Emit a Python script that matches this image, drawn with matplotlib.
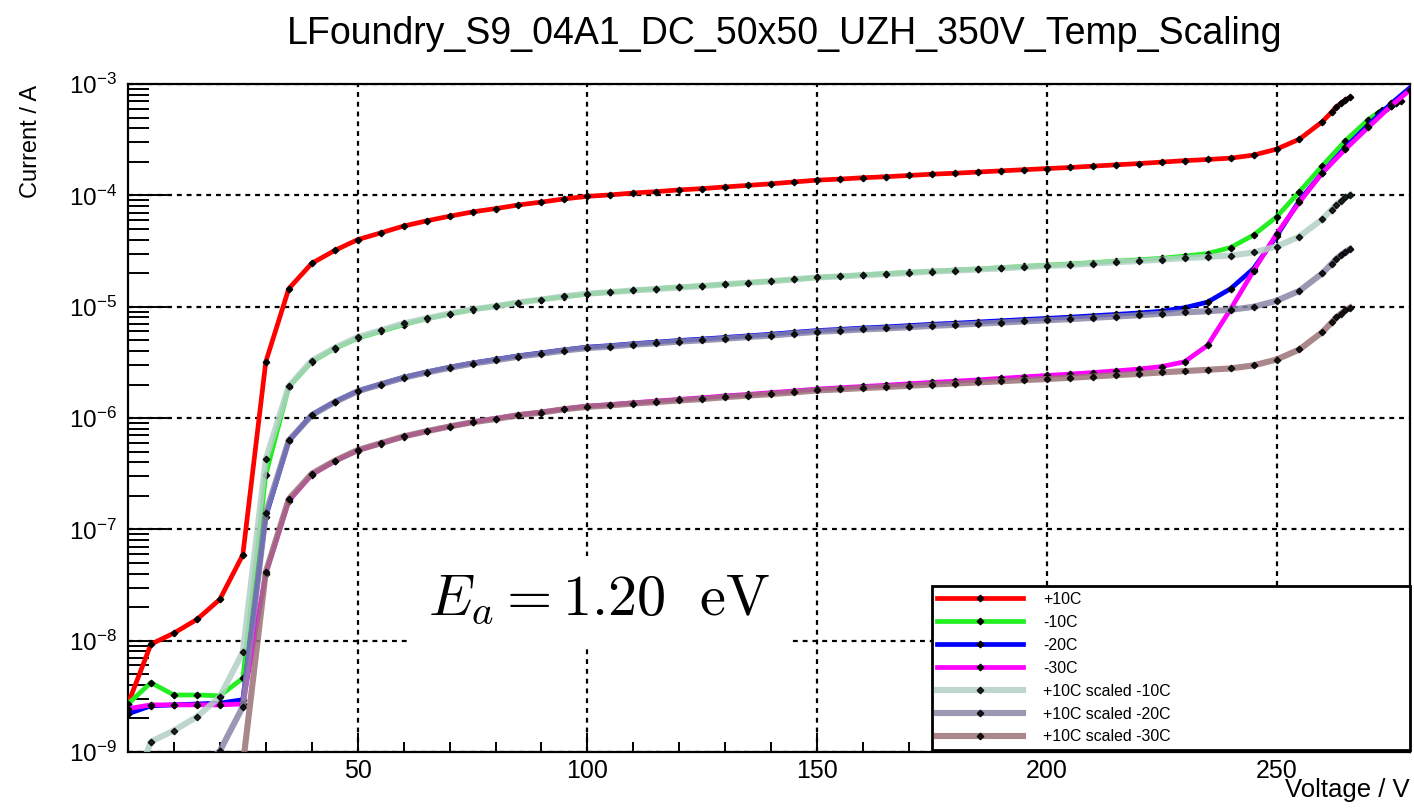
import matplotlib
matplotlib.use("Agg")
import matplotlib.pyplot as plt
from matplotlib.ticker import LogLocator, MultipleLocator, FixedLocator, NullFormatter

plt.rcParams["font.family"] = ["Liberation Sans", "DejaVu Sans"]
plt.rcParams["mathtext.fontset"] = "custom"
plt.rcParams["mathtext.rm"] = "Liberation Sans"
plt.rcParams["mathtext.it"] = "Liberation Sans:italic"

# voltage sweep, 5 V steps
v_sweep = [0, 5, 10, 15, 20, 25, 30, 35, 40, 45, 50, 55, 60, 65, 70, 75, 80, 85, 90, 95,
           100, 105, 110, 115, 120, 125, 130, 135, 140, 145, 150, 155, 160, 165, 170, 175,
           180, 185, 190, 195, 200, 205, 210, 215, 220, 225, 230, 235, 240, 245, 250, 255, 260]
v_p10 = v_sweep + [262, 263, 264, 265, 266]
v_m10 = v_sweep + [265, 270, 272, 273, 274, 275, 276, 277]
v_m20 = v_sweep + [265, 270, 275, 280]
v_m30 = v_sweep + [265, 270, 275, 279]

i_p10 = [2.7e-9, 9.3e-9, 1.17e-8, 1.55e-8, 2.35e-8, 5.9e-8, 3.2e-6, 1.45e-5, 2.45e-5, 3.2e-5,
         4.0e-5, 4.6e-5, 5.3e-5, 5.9e-5, 6.5e-5, 7.1e-5, 7.6e-5, 8.2e-5, 8.7e-5, 9.3e-5,
         9.8e-5, 1.01e-4, 1.05e-4, 1.08e-4, 1.12e-4, 1.15e-4, 1.19e-4, 1.23e-4, 1.27e-4, 1.32e-4,
         1.37e-4, 1.40e-4, 1.44e-4, 1.47e-4, 1.51e-4, 1.55e-4, 1.58e-4, 1.62e-4, 1.66e-4, 1.70e-4,
         1.74e-4, 1.78e-4, 1.83e-4, 1.88e-4, 1.93e-4, 1.99e-4, 2.05e-4, 2.10e-4, 2.16e-4, 2.30e-4,
         2.60e-4, 3.20e-4, 4.60e-4,
         5.6e-4, 6.2e-4, 6.7e-4, 7.2e-4, 7.6e-4]

i_m10 = [2.7e-9, 4.2e-9, 3.25e-9, 3.25e-9, 3.2e-9, 4.6e-9, 3.1e-7, 1.9e-6, 3.2e-6, 4.2e-6,
         5.2e-6, 6.0e-6, 6.9e-6, 7.8e-6, 8.6e-6, 9.4e-6, 1.01e-5, 1.09e-5, 1.16e-5, 1.23e-5,
         1.30e-5, 1.35e-5, 1.40e-5, 1.45e-5, 1.50e-5, 1.54e-5, 1.59e-5, 1.64e-5, 1.70e-5, 1.76e-5,
         1.83e-5, 1.88e-5, 1.93e-5, 1.98e-5, 2.03e-5, 2.08e-5, 2.13e-5, 2.18e-5, 2.24e-5, 2.30e-5,
         2.36e-5, 2.42e-5, 2.49e-5, 2.56e-5, 2.64e-5, 2.72e-5, 2.85e-5, 3.0e-5, 3.4e-5, 4.4e-5,
         6.4e-5, 1.08e-4, 1.85e-4,
         3.1e-4, 4.8e-4, 5.5e-4, 5.8e-4, 6.1e-4, 6.4e-4, 6.7e-4, 7.0e-4]

i_m20 = [2.2e-9, 2.6e-9, 2.65e-9, 2.7e-9, 2.75e-9, 2.95e-9, 1.3e-7, 6.2e-7, 1.07e-6, 1.40e-6,
         1.75e-6, 2.02e-6, 2.32e-6, 2.59e-6, 2.86e-6, 3.12e-6, 3.36e-6, 3.62e-6, 3.85e-6, 4.10e-6,
         4.33e-6, 4.47e-6, 4.65e-6, 4.80e-6, 4.97e-6, 5.12e-6, 5.29e-6, 5.47e-6, 5.66e-6, 5.88e-6,
         6.10e-6, 6.25e-6, 6.43e-6, 6.58e-6, 6.76e-6, 6.95e-6, 7.10e-6, 7.28e-6, 7.47e-6, 7.66e-6,
         7.85e-6, 8.05e-6, 8.28e-6, 8.52e-6, 8.78e-6, 9.10e-6, 9.8e-6, 1.1e-5, 1.45e-5, 2.2e-5,
         4.3e-5, 9.0e-5, 1.6e-4,
         2.7e-4, 4.3e-4, 6.7e-4, 1.0e-3]

i_m30 = [2.45e-9, 2.65e-9, 2.65e-9, 2.65e-9, 2.65e-9, 2.7e-9, 4.0e-8, 1.8e-7, 3.1e-7, 4.1e-7,
         5.1e-7, 5.9e-7, 6.8e-7, 7.6e-7, 8.4e-7, 9.2e-7, 9.9e-7, 1.07e-6, 1.13e-6, 1.21e-6,
         1.28e-6, 1.32e-6, 1.37e-6, 1.42e-6, 1.47e-6, 1.52e-6, 1.58e-6, 1.63e-6, 1.69e-6, 1.75e-6,
         1.82e-6, 1.87e-6, 1.92e-6, 1.97e-6, 2.03e-6, 2.09e-6, 2.14e-6, 2.20e-6, 2.27e-6, 2.34e-6,
         2.41e-6, 2.48e-6, 2.56e-6, 2.65e-6, 2.75e-6, 2.90e-6, 3.2e-6, 4.5e-6, 9.5e-6, 2.1e-5,
         4.5e-5, 8.7e-5, 1.6e-4,
         2.6e-4, 4.1e-4, 6.4e-4, 8.8e-4]

# +10C curve scaled to lower temperatures (same voltages as +10C)
i_s10 = [3.6e-10, 1.24e-9, 1.56e-9, 2.07e-9, 3.13e-9, 7.9e-9, 4.27e-7, 1.93e-6, 3.27e-6, 4.27e-6,
         5.33e-6, 6.13e-6, 7.07e-6, 7.87e-6, 8.67e-6, 9.47e-6, 1.01e-5, 1.09e-5, 1.16e-5, 1.24e-5,
         1.31e-5, 1.35e-5, 1.40e-5, 1.44e-5, 1.49e-5, 1.53e-5, 1.59e-5, 1.64e-5, 1.69e-5, 1.76e-5,
         1.83e-5, 1.87e-5, 1.92e-5, 1.96e-5, 2.01e-5, 2.07e-5, 2.11e-5, 2.16e-5, 2.21e-5, 2.27e-5,
         2.32e-5, 2.37e-5, 2.44e-5, 2.51e-5, 2.57e-5, 2.65e-5, 2.73e-5, 2.80e-5, 2.88e-5, 3.07e-5,
         3.47e-5, 4.27e-5, 6.13e-5,
         7.46e-5, 8.26e-5, 8.93e-5, 9.60e-5, 1.01e-4]

i_s20 = [1.17e-10, 4.04e-10, 5.08e-10, 6.73e-10, 1.02e-9, 2.56e-9, 1.39e-7, 6.29e-7, 1.06e-6, 1.39e-6,
         1.74e-6, 2.00e-6, 2.30e-6, 2.56e-6, 2.82e-6, 3.08e-6, 3.30e-6, 3.56e-6, 3.78e-6, 4.04e-6,
         4.25e-6, 4.38e-6, 4.56e-6, 4.69e-6, 4.86e-6, 4.99e-6, 5.16e-6, 5.34e-6, 5.51e-6, 5.73e-6,
         5.95e-6, 6.08e-6, 6.25e-6, 6.38e-6, 6.55e-6, 6.73e-6, 6.86e-6, 7.03e-6, 7.20e-6, 7.38e-6,
         7.55e-6, 7.73e-6, 7.94e-6, 8.16e-6, 8.38e-6, 8.64e-6, 8.90e-6, 9.11e-6, 9.37e-6, 9.98e-6,
         1.13e-5, 1.39e-5, 2.00e-5,
         2.43e-5, 2.69e-5, 2.91e-5, 3.12e-5, 3.30e-5]

i_s30 = [3.5e-11, 1.2e-10, 1.51e-10, 2.0e-10, 3.03e-10, 7.61e-10, 4.13e-8, 1.87e-7, 3.16e-7, 4.13e-7,
         5.16e-7, 5.93e-7, 6.84e-7, 7.61e-7, 8.39e-7, 9.16e-7, 9.80e-7, 1.06e-6, 1.12e-6, 1.20e-6,
         1.26e-6, 1.30e-6, 1.35e-6, 1.39e-6, 1.44e-6, 1.48e-6, 1.54e-6, 1.59e-6, 1.64e-6, 1.70e-6,
         1.77e-6, 1.81e-6, 1.86e-6, 1.90e-6, 1.95e-6, 2.00e-6, 2.04e-6, 2.09e-6, 2.14e-6, 2.19e-6,
         2.24e-6, 2.30e-6, 2.36e-6, 2.43e-6, 2.49e-6, 2.57e-6, 2.64e-6, 2.71e-6, 2.79e-6, 2.97e-6,
         3.35e-6, 4.13e-6, 5.93e-6,
         7.22e-6, 8.00e-6, 8.64e-6, 9.29e-6, 9.80e-6]

labels = ["+10C", "-10C", "-20C", "-30C",
          "+10C scaled -10C", "+10C scaled -20C", "+10C scaled -30C"]
colors = ["#ff0000", "#22ee22", "#0000ff", "#ff00ff", "#b3d1c6", "#8886a6", "#9a7276"]
x_major = [50, 100, 150, 200, 250]

fig = plt.figure(figsize=(14.14, 8.08), dpi=100)
ax = fig.add_axes([0.0905, 0.0693, 0.9065, 0.8267])

raw = [(v_p10, i_p10), (v_m10, i_m10), (v_m20, i_m20), (v_m30, i_m30)]
scaled = [(v_p10, i_s10), (v_p10, i_s20), (v_p10, i_s30)]

handles = []
for k, (v, i) in enumerate(raw):
    h, = ax.plot(v, i, color=colors[k], lw=3.4, marker="D", ms=3.3,
                 mfc="black", mec="black", label=labels[k], zorder=3)
    handles.append(h)
for k, (v, i) in enumerate(scaled):
    h, = ax.plot(v, i, color=colors[4 + k], lw=4.4, alpha=0.85, marker="D", ms=3.3,
                 mfc="black", mec="black", label=labels[4 + k], zorder=4)
    handles.append(h)

ax.set_yscale("log")
ax.set_xlim(0, 279)
ax.set_ylim(1e-9, 1e-3)

ax.xaxis.set_major_locator(FixedLocator(x_major))
ax.xaxis.set_minor_locator(MultipleLocator(10))
ax.yaxis.set_major_locator(LogLocator(base=10, numticks=10))
ax.yaxis.set_minor_locator(LogLocator(base=10, subs=[2, 3, 4, 5, 6, 7, 8, 9], numticks=10))
ax.yaxis.set_minor_formatter(NullFormatter())

ax.tick_params(axis="x", which="major", direction="in", length=14, width=1.4,
               labelsize=18, pad=5, top=False)
ax.tick_params(axis="x", which="minor", direction="in", length=7, width=1.4, top=False)
ax.tick_params(axis="y", which="major", direction="in", length=28, width=1.4,
               labelsize=17.5, pad=8, right=False)
ax.tick_params(axis="y", which="minor", direction="in", length=15, width=1.4, right=False)
for s in ax.spines.values():
    s.set_linewidth(1.6)

ax.grid(which="major", color="black", linestyle=(0, (2.2, 2.2)), lw=1.6, zorder=1)
ax.set_axisbelow(True)

leg = ax.legend(handles=handles, loc="lower left", bbox_to_anchor=(0.627, 0.003, 0.373, 0.251),
                mode="expand", fontsize=11.4, frameon=True, fancybox=False,
                edgecolor="black", framealpha=1, handlelength=5.4, handletextpad=1.3,
                labelspacing=0.5, borderpad=0.35, borderaxespad=0)
leg.get_frame().set_linewidth(2)
leg.set_zorder(10)

ax.text(0.368, 0.2275, r"$E_a = 1.20\ \ \mathrm{eV}$", transform=ax.transAxes,
        fontsize=42, ha="center", va="center", math_fontfamily="cm", zorder=9,
        bbox=dict(boxstyle="square,pad=0.3", facecolor="white", edgecolor="none"))

fig.text(0.555, 0.958, "LFoundry_S9_04A1_DC_50x50_UZH_350V_Temp_Scaling",
         fontsize=27, ha="center", va="center")
fig.text(0.022, 0.895, "Current / A", rotation=90, fontsize=17, ha="center", va="top")
fig.text(0.997, 0.022, "Voltage / V", fontsize=18.5, ha="right", va="center")

fig.savefig("out.png", dpi=100)
